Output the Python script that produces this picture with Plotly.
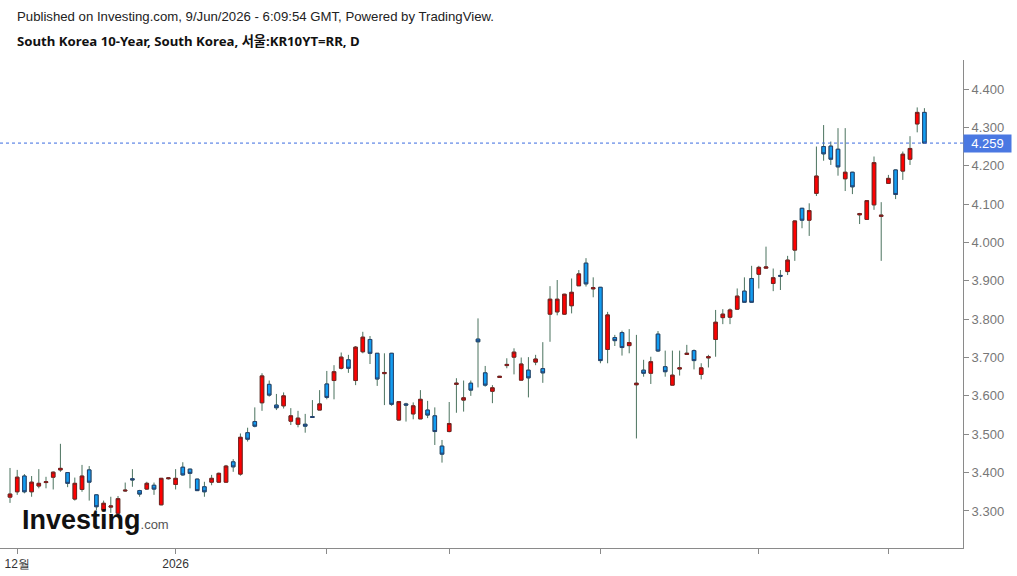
import plotly.graph_objects as go

# ---- data ----
opens = [3.336, 3.350, 3.391, 3.350, 3.365, 3.374, 3.388, 3.407, 3.400, 3.331,
         3.356, 3.407, 3.342, 3.302, 3.310, 3.294, 3.352, 3.384, 3.353, 3.357,
         3.367, 3.316, 3.384, 3.369, 3.414, 3.409, 3.383, 3.363, 3.375, 3.375,
         3.375, 3.428, 3.396, 3.504, 3.533, 3.582, 3.630, 3.576, 3.574, 3.534,
         3.526, 3.526, 3.546, 3.563, 3.631, 3.640, 3.672, 3.694, 3.640, 3.715,
         3.747, 3.711, 3.658, 3.711, 3.537, 3.579, 3.553, 3.540, 3.563, 3.548,
         3.469, 3.507, 3.630, 3.589, 3.633, 3.748, 3.660, 3.612, 3.648, 3.679,
         3.701, 3.641, 3.667, 3.688, 3.671, 3.813, 3.819, 3.813, 3.835, 3.887,
         3.946, 3.879, 3.883, 3.721, 3.752, 3.765, 3.731, 3.629, 3.667, 3.659,
         3.761, 3.676, 3.628, 3.670, 3.708, 3.718, 3.656, 3.699, 3.747, 3.804,
         3.805, 3.826, 3.873, 3.906, 3.917, 3.933, 3.893, 3.914, 3.924, 3.980,
         4.089, 4.058, 4.128, 4.250, 4.251, 4.243, 4.166, 4.183, 4.072, 4.060,
         4.098, 4.068, 4.154, 4.189, 4.186, 4.217, 4.309, 4.339]
highs = [3.412, 3.407, 3.396, 3.391, 3.409, 3.389, 3.403, 3.475, 3.401, 3.387,
         3.420, 3.417, 3.343, 3.327, 3.337, 3.339, 3.374, 3.409, 3.355, 3.376,
         3.374, 3.386, 3.388, 3.409, 3.427, 3.410, 3.384, 3.376, 3.394, 3.400,
         3.420, 3.435, 3.502, 3.517, 3.570, 3.659, 3.640, 3.605, 3.609, 3.568,
         3.561, 3.553, 3.589, 3.615, 3.665, 3.680, 3.713, 3.707, 3.730, 3.767,
         3.756, 3.711, 3.711, 3.712, 3.586, 3.582, 3.583, 3.615, 3.587, 3.570,
         3.485, 3.584, 3.646, 3.640, 3.640, 3.802, 3.678, 3.628, 3.652, 3.698,
         3.724, 3.700, 3.701, 3.707, 3.740, 3.886, 3.902, 3.866, 3.906, 3.928,
         3.959, 3.909, 3.884, 3.819, 3.759, 3.770, 3.774, 3.759, 3.694, 3.702,
         3.769, 3.718, 3.718, 3.718, 3.733, 3.721, 3.685, 3.707, 3.824, 3.826,
         3.828, 3.880, 3.909, 3.939, 3.939, 3.989, 3.932, 3.928, 3.965, 4.057,
         4.090, 4.102, 4.250, 4.306, 4.263, 4.298, 4.298, 4.184, 4.077, 4.110,
         4.224, 4.105, 4.176, 4.190, 4.237, 4.277, 4.352, 4.350]
lows = [3.321, 3.342, 3.346, 3.337, 3.359, 3.359, 3.356, 3.402, 3.362, 3.327,
        3.350, 3.327, 3.302, 3.298, 3.295, 3.293, 3.350, 3.363, 3.337, 3.355,
        3.342, 3.315, 3.382, 3.356, 3.392, 3.359, 3.352, 3.337, 3.367, 3.374,
        3.374, 3.402, 3.392, 3.481, 3.518, 3.561, 3.598, 3.563, 3.567, 3.524,
        3.518, 3.504, 3.543, 3.563, 3.591, 3.591, 3.669, 3.660, 3.628, 3.711,
        3.683, 3.626, 3.576, 3.574, 3.536, 3.533, 3.539, 3.540, 3.542, 3.472,
        3.426, 3.505, 3.556, 3.559, 3.600, 3.622, 3.624, 3.581, 3.647, 3.672,
        3.656, 3.641, 3.596, 3.680, 3.634, 3.741, 3.810, 3.811, 3.815, 3.887,
        3.885, 3.857, 3.685, 3.685, 3.730, 3.705, 3.711, 3.489, 3.650, 3.631,
        3.715, 3.650, 3.628, 3.653, 3.707, 3.669, 3.643, 3.674, 3.702, 3.787,
        3.787, 3.824, 3.844, 3.843, 3.880, 3.932, 3.873, 3.876, 3.915, 3.952,
        4.037, 4.017, 4.121, 4.213, 4.202, 4.174, 4.134, 4.126, 4.048, 4.059,
        4.085, 3.952, 4.153, 4.113, 4.163, 4.202, 4.287, 4.259]
closes = [3.344, 3.388, 3.350, 3.375, 3.372, 3.376, 3.401, 3.411, 3.372, 3.372,
          3.391, 3.375, 3.311, 3.320, 3.313, 3.332, 3.354, 3.381, 3.344, 3.372,
          3.357, 3.385, 3.386, 3.385, 3.394, 3.398, 3.353, 3.350, 3.385, 3.398,
          3.417, 3.415, 3.492, 3.487, 3.521, 3.652, 3.602, 3.569, 3.600, 3.548,
          3.542, 3.521, 3.544, 3.579, 3.596, 3.663, 3.701, 3.672, 3.727, 3.753,
          3.711, 3.644, 3.661, 3.578, 3.585, 3.576, 3.574, 3.591, 3.550, 3.507,
          3.448, 3.528, 3.633, 3.595, 3.615, 3.741, 3.628, 3.621, 3.651, 3.682,
          3.714, 3.683, 3.647, 3.696, 3.660, 3.852, 3.852, 3.865, 3.870, 3.918,
          3.892, 3.882, 3.692, 3.811, 3.744, 3.726, 3.739, 3.633, 3.659, 3.689,
          3.717, 3.663, 3.654, 3.673, 3.711, 3.692, 3.673, 3.702, 3.792, 3.813,
          3.824, 3.860, 3.844, 3.844, 3.935, 3.936, 3.908, 3.912, 3.954, 4.056,
          4.058, 4.083, 4.173, 4.231, 4.217, 4.197, 4.183, 4.145, 4.075, 4.109,
          4.208, 4.071, 4.167, 4.125, 4.230, 4.245, 4.339, 4.259]

# bar index of the first session of each month shown on the time axis
month_start_idx = [1, 23, 44, 61, 82, 104, 122]
month_labels = ["12월", "2026", "", "", "", "", ""]

price_ticks = [3.3, 3.4, 3.5, 3.6, 3.7, 3.8, 3.9, 4.0, 4.1, 4.2, 4.3, 4.4]

n = len(closes)
xs = list(range(n))
body_hi = [max(o, c) for o, c in zip(opens, closes)]
body_lo = [min(o, c) for o, c in zip(opens, closes)]
last = closes[-1]

WICK = "#4b735f"
UP_FILL, UP_LINE = "#ff0000", "#7d1f1f"
DN_FILL, DN_LINE = "#129df2", "#25406f"

fig = go.Figure()
# wicks
fig.add_trace(go.Candlestick(
    x=xs, open=opens, high=highs, low=lows, close=closes,
    increasing=dict(line=dict(color=WICK, width=1), fillcolor="rgba(0,0,0,0)"),
    decreasing=dict(line=dict(color=WICK, width=1), fillcolor="rgba(0,0,0,0)"),
    showlegend=False, hoverinfo="skip"))
# bodies
fig.add_trace(go.Candlestick(
    x=xs, open=opens, high=body_hi, low=body_lo, close=closes,
    increasing=dict(line=dict(color=UP_LINE, width=1), fillcolor=UP_FILL),
    decreasing=dict(line=dict(color=DN_LINE, width=1), fillcolor=DN_FILL),
    showlegend=False))

fig.add_shape(type="line", xref="paper", x0=0, x1=1, yref="y", y0=last, y1=last,
              line=dict(color="#3b6be0", width=1, dash="dot"))

fig.add_annotation(xref="paper", x=1, xanchor="left", yref="y", y=last,
                   text=f"{last:.3f}", showarrow=False,
                   bgcolor="#4a78e2", width=43, height=13, borderpad=2,
                   font=dict(family="Liberation Sans, Arial", size=13, color="white"))

fig.add_annotation(xref="paper", yref="paper", x=15/963, y=(548-17)/488,
                   xanchor="left", yanchor="middle", showarrow=False,
                   text="Published on Investing.com, 9/Jun/2026 - 6:09:54 GMT, Powered by TradingView.",
                   font=dict(family="Liberation Sans, Arial", size=13.2, color="#222"))
fig.add_annotation(xref="paper", yref="paper", x=15/963, y=(548-41)/488,
                   xanchor="left", yanchor="middle", showarrow=False,
                   text="<b>South Korea 10-Year, South Korea, 서울:KR10YT=RR, D</b>",
                   font=dict(family="Noto Sans, Noto Sans CJK KR", size=13.2, color="#111"))
fig.add_annotation(xref="paper", yref="paper", x=20/963, y=(548-520)/488,
                   xanchor="left", yanchor="middle", showarrow=False,
                   text="<b>Investing</b><span style='font-size:13px;color:#555'>.com</span>",
                   font=dict(family="Liberation Sans, Arial", size=27, color="#111"))

fig.update_layout(
    width=1017, height=576,
    margin=dict(l=0, r=54, t=60, b=28),
    paper_bgcolor="white", plot_bgcolor="white",
    xaxis=dict(range=[-1.39, 132.36], rangeslider=dict(visible=False),
               showgrid=False, zeroline=False, showline=True, linecolor="#8a8a8a",
               ticks="outside", ticklen=5, tickcolor="#8a8a8a",
               tickvals=month_start_idx, ticktext=month_labels,
               tickfont=dict(family="Liberation Sans, Arial", size=12, color="#333")),
    yaxis=dict(side="right", range=[3.2034, 4.4756], showgrid=False, zeroline=False,
               showline=True, linecolor="#8a8a8a", ticks="outside", ticklen=5,
               tickcolor="#8a8a8a", tickvals=price_ticks, tickformat=".3f",
               tickfont=dict(family="Liberation Sans, Arial", size=13, color="#777")),
    hovermode=False,
)

fig.write_html("out.html")
